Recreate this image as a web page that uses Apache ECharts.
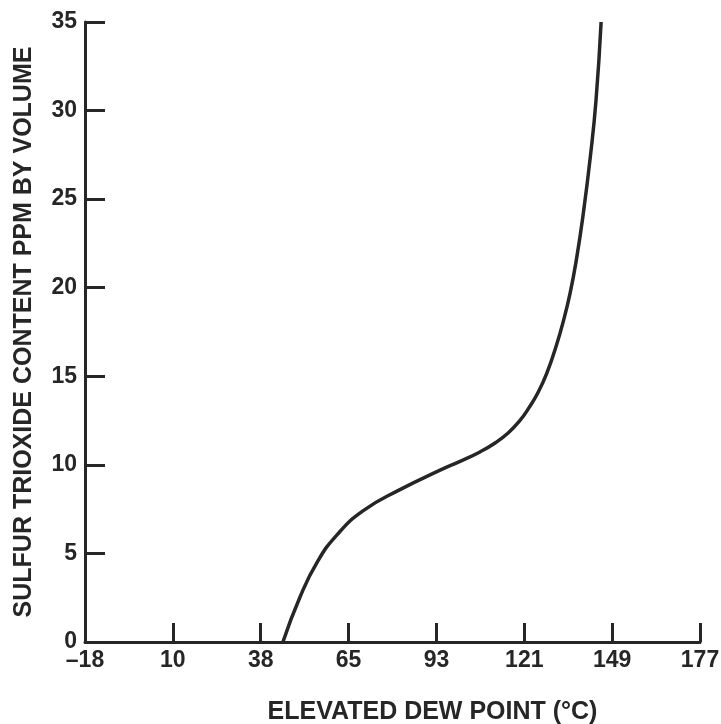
<!DOCTYPE html>
<html>
<head>
<meta charset="utf-8">
<script src="https://cdn.jsdelivr.net/npm/echarts@6/dist/echarts.min.js"></script>
<style>html,body{margin:0;padding:0;background:#fff;}#c{width:721px;height:724px;}</style>
</head>
<body>
<div id="c"></div>
<script>
// Tick labels (°C) placed at even 50°F steps
var xTickLabels = ['\u201318', '10', '38', '65', '93', '121', '149', '177'];
var yTickLabels = ['0', '5', '10', '15', '20', '25', '30', '35'];
// Curve: dew point (°C) vs SO3 content (ppm)
var dewPointC = [44.8, 50.2, 55.6, 61.9, 70.1, 81.8, 94.5, 100.8, 107.1, 112.0, 116.0, 119.5, 122.5, 125.5, 128.5, 131.0, 133.3, 135.6, 137.6, 139.7, 142.0, 143.8, 145.4];
var so3ppm    = [0, 2.54, 4.5, 6.05, 7.4, 8.6, 9.7, 10.2, 10.73, 11.25, 11.8, 12.45, 13.2, 14.1, 15.3, 16.6, 18.0, 19.7, 21.6, 24.1, 27.4, 30.6, 35.0];

var ink = '#262626';
var font = 'Liberation Sans, Arial, Helvetica, sans-serif';
function cToF(c) { return c * 1.8 + 32; }
var data = dewPointC.map(function (c, i) { return [cToF(c), so3ppm[i]]; });

var chart = echarts.init(document.getElementById('c'), null, {renderer: 'canvas'});
chart.setOption({
  animation: false,
  backgroundColor: '#ffffff',
  grid: {left: 85, right: 21, top: 22, bottom: 82, containLabel: false, outerBoundsMode: 'none'},
  xAxis: {
    type: 'value', min: 0, max: 350, interval: 50,
    name: 'ELEVATED DEW POINT (\u00B0C)',
    nameLocation: 'middle', nameGap: 58,
    nameTextStyle: {color: ink, fontFamily: font, fontSize: 25, fontWeight: 'bold', padding: [0, 0, 0, 80]},
    axisLine: {show: true, onZero: false, lineStyle: {color: ink, width: 3}},
    axisTick: {show: true, inside: true, length: 19, lineStyle: {color: ink, width: 3}},
    axisLabel: {
      color: ink, fontFamily: font, fontSize: 23, fontWeight: 'bold', margin: 7,
      formatter: function (v) { return xTickLabels[Math.round(v / 50)]; }
    },
    splitLine: {show: false}
  },
  yAxis: {
    type: 'value', min: 0, max: 35, interval: 5,
    name: 'SULFUR TRIOXIDE CONTENT PPM BY VOLUME',
    nameLocation: 'middle', nameGap: 48, nameRotate: 90,
    nameTextStyle: {color: ink, fontFamily: font, fontSize: 25, fontWeight: 'bold'},
    axisLine: {show: true, onZero: false, lineStyle: {color: ink, width: 3}},
    axisTick: {show: true, inside: true, length: 20, lineStyle: {color: ink, width: 3}},
    axisLabel: {
      color: ink, fontFamily: font, fontSize: 23, fontWeight: 'bold', margin: 8,
      formatter: function (v) { return yTickLabels[Math.round(v / 5)]; }
    },
    splitLine: {show: false}
  },
  series: [{
    type: 'line',
    data: data,
    smooth: 0.5,
    showSymbol: false,
    lineStyle: {color: ink, width: 3.5}
  }]
});
</script>
</body>
</html>
